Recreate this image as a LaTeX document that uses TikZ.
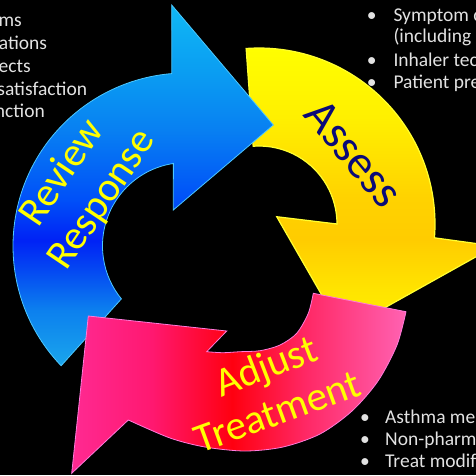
\documentclass[tikz,border=0pt]{standalone}
\usepackage{fontspec}
\setmainfont{Carlito}
\definecolor{bl0}{HTML}{1AA6EC}
\definecolor{bl1}{HTML}{0C80EE}
\definecolor{bl2}{HTML}{0448F2}
\definecolor{bl3}{HTML}{0022F5}
\definecolor{bl4}{HTML}{0050F8}
\definecolor{bl5}{HTML}{0880F2}
\definecolor{bl6}{HTML}{0A9CF2}
\definecolor{bl7}{HTML}{10B8F4}
\definecolor{ye0}{HTML}{FFF000}
\definecolor{ye1}{HTML}{FFE400}
\definecolor{ye2}{HTML}{FFCC00}
\definecolor{ye3}{HTML}{FFD200}
\definecolor{ye4}{HTML}{FFF000}
\definecolor{ye5}{HTML}{FFFF00}
\definecolor{pk0}{HTML}{FF2A92}
\definecolor{pk1}{HTML}{FF1870}
\definecolor{pk2}{HTML}{FF0010}
\definecolor{pk3}{HTML}{FF2865}
\definecolor{pk4}{HTML}{FF62B2}
\definecolor{bedge}{HTML}{4CC8FF}
\definecolor{yedge}{HTML}{FFFF30}
\definecolor{pedge}{HTML}{FF7ADC}
\definecolor{labyellow}{HTML}{FFFF00}
\definecolor{navytxt}{HTML}{0A0A78}
\definecolor{listgray}{HTML}{E2E2E2}
\pgfdeclareverticalshading{blueshade}{100bp}{color(0bp)=(bl0); color(25bp)=(bl0); color(32.7bp)=(bl1); color(38.3bp)=(bl2); color(42.4bp)=(bl3); color(48bp)=(bl4); color(57.7bp)=(bl5); color(65.3bp)=(bl6); color(75bp)=(bl7); color(100bp)=(bl7)}
\pgfdeclareverticalshading{yellowshade}{100bp}{color(0bp)=(ye0); color(25bp)=(ye0); color(32.3bp)=(ye1); color(41bp)=(ye2); color(48.2bp)=(ye3); color(62.3bp)=(ye4); color(75bp)=(ye5); color(100bp)=(ye5)}
\pgfdeclarehorizontalshading{pinkshade}{100bp}{color(0bp)=(pk0); color(25bp)=(pk0); color(37bp)=(pk1); color(49bp)=(pk2); color(60bp)=(pk3); color(75bp)=(pk4); color(100bp)=(pk4)}
\begin{document}
\begin{tikzpicture}[x=1pt,y=1pt,
  bigy/.style={text=labyellow, font=\fontsize{41}{49}\selectfont, inner sep=0pt, anchor=base},
  bignavy/.style={text=navytxt, font=\fontsize{47}{56}\selectfont, inner sep=0pt, anchor=base},
  lst/.style={text=listgray, font=\fontsize{19.5}{23}\selectfont, inner sep=0pt},
  lstL/.style={lst, anchor=base east},
  lstR/.style={lst, anchor=base west},
  bul/.style={lst, anchor=base}]
\useasboundingbox (0,0) rectangle (476,475);
\fill[black] (0,0) rectangle (476,475);
\coordinate (yc) at (259,251);
\coordinate (bc) at (186,229);
% yellow arrow (Assess)
\shadedraw[shading=yellowshade, draw=yedge, line width=1.2pt, line join=miter]
  ([shift={(yc)}]94.2:176pt) arc[start angle=94.2, end angle=-4.5, radius=176pt]
  -- (495.2,228.9) -- (342.6,143.7) -- (276.7,258.3)
  -- ([shift={(yc)}]0:78pt) arc[start angle=0, end angle=94.3, radius=78pt] -- cycle;
% blue arrow (Review Response)
\shadedraw[shading=blueshade, draw=bedge, line width=0.8pt, line join=miter]
  ([shift={(bc)}]223.8:173pt) arc[start angle=223.8, end angle=94.7, radius=173pt]
  -- (171.7,470) -- (273.3,350) -- (173.3,265)
  -- ([shift={(bc)}]98.7:83.5pt) arc[start angle=98.7, end angle=219.3, radius=83.5pt] -- cycle;
% pink arrow (Adjust Treatment)
\shadedraw[shading=pinkshade, draw=pedge, line width=0.8pt, line join=miter]
  plot[smooth] coordinates {(406,163.3) (397,130) (378,94) (352,64) (320,41) (283,28) (245,24) (205,28) (170,37) (128.3,55)}
  -- (71.7,1.7) -- (88.3,159) -- (226.7,144)
  -- plot[smooth] coordinates {(206.7,123.3) (223,122.3) (240,123.3) (260,124.3) (280,130) (296.7,141.7) (308.3,161.7) (313.3,181.7)}
  -- cycle;
% labels
\node[bigy, rotate=56] (review) at (71.4,295.8) {Review};
\node[bigy, rotate=56] (response) at (111.4,269.1) {Response};
\node[bignavy, rotate=-50] (assess) at (342.5,312.3) {Assess};
\node[bigy, rotate=21] (adjust) at (270.8,96.5) {Adjust};
\node[bigy, rotate=20] (treatment) at (282,51) {Treatment};
% left list
\node[lstL] (l1) at (22,448.7) {ms};
\node[lstL] (l2) at (47.3,425.8) {ations};
\node[lstL] (l3) at (31,402.9) {ects};
\node[lstL] (l4) at (87.3,380) {satisfaction};
\node[lstL] (l5) at (45,357.1) {nction};
% right top list
\node[bul] (b1) at (371.7,453.8) {•};
\node[lstR] (r1) at (393.3,453.8) {Symptom c};
\node[lstR] (r2) at (393.3,432.2) {(including l};
\node[bul] (b3) at (371.7,408.8) {•};
\node[lstR] (r3) at (393.3,408.8) {Inhaler tec};
\node[bul] (b4) at (371.7,386.5) {•};
\node[lstR] (r4) at (393.3,386.5) {Patient pre};
% bottom right list
\node[bul] (c1b) at (365,51.5) {•};
\node[lstR] (c1) at (385,51.5) {Asthma me};
\node[bul] (c2b) at (365,29.8) {•};
\node[lstR] (c2) at (385,29.8) {Non-pharm};
\node[bul] (c3b) at (365,7.8) {•};
\node[lstR] (c3) at (385,7.8) {Treat modif};
\end{tikzpicture}
\end{document}
